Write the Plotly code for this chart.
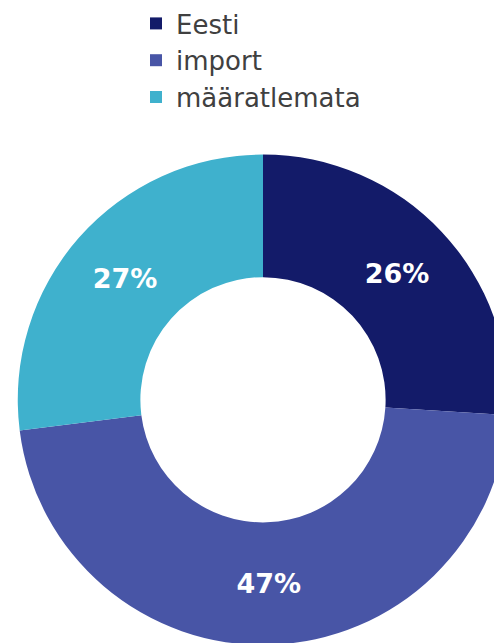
import plotly.graph_objects as go

labels = ["Eesti", "import", "määratlemata"]
values = [26, 47, 27]
colors = ["#131B69", "#4855A6", "#3FB1CD"]

W, H = 526, 647
fig = go.Figure(go.Pie(
    labels=labels, values=values, hole=0.5, sort=False, direction="clockwise",
    rotation=0, marker=dict(colors=colors, line=dict(width=0)),
    texttemplate="%{percent:.0%}", textposition="inside", insidetextorientation="horizontal",
    textfont=dict(family="DejaVu Sans", size=27, color="white", weight="bold"),
    domain=dict(x=[0, 1], y=[2 / H, 494 / H]),
))
fig.update_layout(
    width=W, height=H, margin=dict(l=0, r=0, t=0, b=0),
    paper_bgcolor="white", plot_bgcolor="white",
    font=dict(family="DejaVu Sans", color="#404040"),
    legend=dict(x=136 / W, y=1 + 2 / H, xanchor="left", yanchor="top", orientation="v",
                font=dict(size=26, color="#404040"), itemwidth=30),
)
fig.write_html("out.html", config={"displayModeBar": False},
               post_script="document.body.style.margin='0';document.body.style.overflow='hidden';document.documentElement.style.overflow='hidden';")
